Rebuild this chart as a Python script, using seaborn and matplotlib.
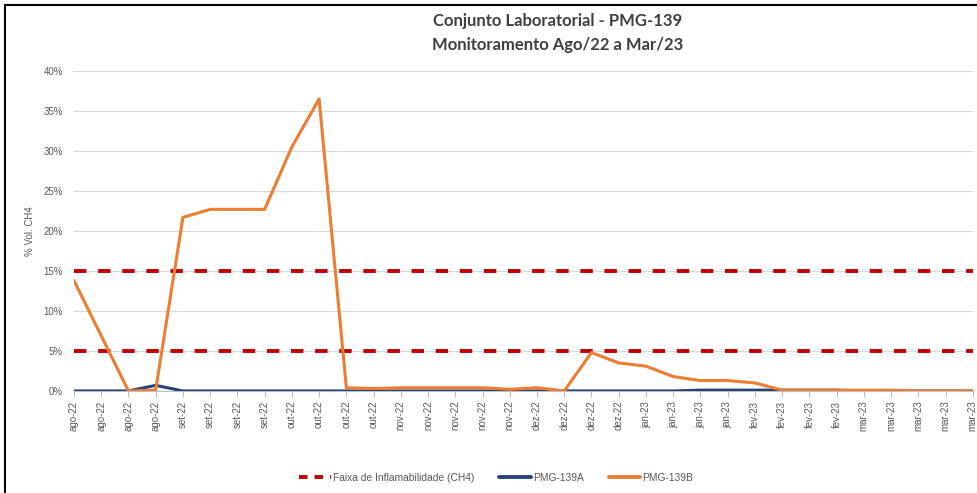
import numpy as np
import pandas as pd
import matplotlib
matplotlib.use('Agg')
import matplotlib.pyplot as plt
from matplotlib.patches import Rectangle
from matplotlib.lines import Line2D
import seaborn as sns

# x categories (one label per reading)
labels = (['ago-22'] * 4 + ['set-22'] * 4 + ['out-22'] * 4 + ['nov-22'] * 5 +
          ['dez-22'] * 4 + ['jan-23'] * 4 + ['fev-23'] * 4 + ['mar-23'] * 5)

# % Vol. CH4 readings
pmg_139a = [0, 0, 0, 0.7, 0, 0, 0, 0, 0, 0, 0, 0, 0, 0, 0, 0, 0,
            0, 0, 0, 0, 0, 0, 0.1, 0.1, 0.1, 0.1, 0.1, 0.1, 0, 0, 0, 0, 0]
pmg_139b = [13.8, 6.9, 0, 0.1, 21.7, 22.7, 22.7, 22.7, 30.5, 36.5, 0.4, 0.3,
            0.4, 0.4, 0.4, 0.4, 0.2, 0.4, 0, 4.8, 3.5, 3.1, 1.8, 1.3, 1.3,
            1.0, 0.1, 0.1, 0.1, 0.1, 0.1, 0, 0, 0]
faixa = [5, 15]

sns.set_style('white')
plt.rcParams['font.family'] = ['Liberation Sans', 'DejaVu Sans']

df = pd.DataFrame({'idx': np.arange(len(labels)), 'A': pmg_139a, 'B': pmg_139b})

fig = plt.figure(figsize=(9.77, 4.93), dpi=100)
ax = fig.add_axes([0.0757, 0.207, 0.920, 0.649])

RED = '#C00000'
BLUE = '#264478'
ORANGE = '#ED7D31'

for v in faixa:
    ax.axhline(v, color=RED, lw=2.8, ls=(0, (3.2, 3.0)), zorder=3)

sns.lineplot(data=df, x='idx', y='A', color=BLUE, lw=2.2, ax=ax, zorder=4)
sns.lineplot(data=df, x='idx', y='B', color=ORANGE, lw=2.2, ax=ax, zorder=5)

ax.set_xlim(0, len(labels) - 1)
ax.set_ylim(0, 40)
ax.set_yticks(np.arange(0, 41, 5))
ax.set_yticklabels([f'{v}%' for v in range(0, 41, 5)], fontsize=7, color='#595959')
ax.set_xticks(df['idx'])
ax.set_xticklabels(labels, rotation=90, fontsize=7, color='#595959')
ax.tick_params(axis='x', length=4, color='#BFBFBF', pad=3, bottom=True)
ax.tick_params(axis='y', length=0, pad=8)
ax.grid(axis='y', color='#D9D9D9', lw=0.8)
ax.set_axisbelow(True)
for s in ['top', 'right', 'left']:
    ax.spines[s].set_visible(False)
ax.spines['bottom'].set_color('#BFBFBF')
ax.set_xlabel('')
ax.set_ylabel('% Vol. CH4', fontsize=7, color='#595959', labelpad=6)

fig.text(0.571, 0.957, 'Conjunto Laboratorial - PMG-139', ha='center', va='center',
         fontsize=12, fontweight='bold', color='#404040', family=['Lato', 'DejaVu Sans'])
fig.text(0.571, 0.909, 'Monitoramento Ago/22 a Mar/23', ha='center', va='center',
         fontsize=12, fontweight='bold', color='#404040', family=['Lato', 'DejaVu Sans'])

handles = [Line2D([], [], color=RED, lw=2.8, ls=(0, (2.2, 1.8))),
           Line2D([], [], color=BLUE, lw=2.8),
           Line2D([], [], color=ORANGE, lw=2.8)]
fig.legend(handles, ['Faixa de Inflamabilidade (CH4)', 'PMG-139A', 'PMG-139B'],
           loc='center', bbox_to_anchor=(0.508, 0.031), ncol=3, frameon=False,
           fontsize=7.4, labelcolor='#595959', handlelength=3.1, columnspacing=2.4,
           handletextpad=0.2)

fig.patches.append(Rectangle((5 / 977, -0.1), 1.2, 1.1 - 5 / 493, transform=fig.transFigure,
                             fill=False, edgecolor='black', lw=1.5))

fig.savefig('out.png', dpi=100)
